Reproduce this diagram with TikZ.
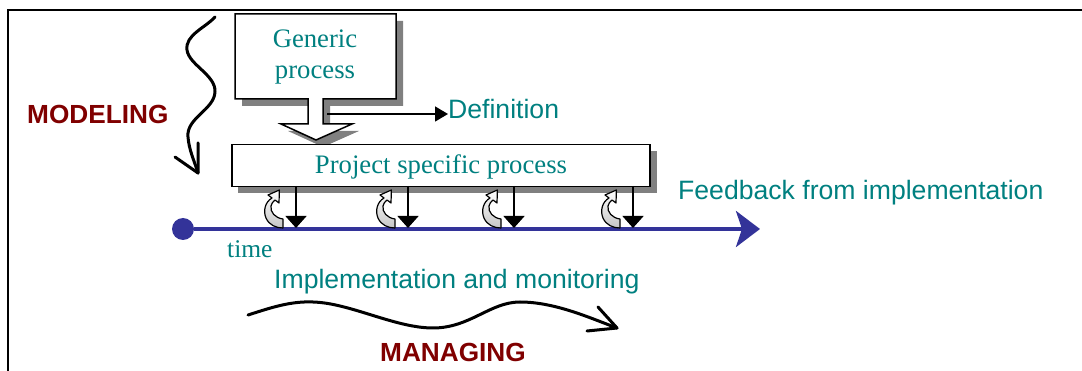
\documentclass[tikz,border=0pt]{standalone}
\usepackage{fontspec}
\setmainfont{Liberation Serif}
\setsansfont{Liberation Sans}
\usetikzlibrary{arrows.meta}
\definecolor{teal1}{RGB}{0,128,128}
\definecolor{dred}{RGB}{128,0,0}
\definecolor{tblue}{RGB}{51,51,153}
\definecolor{shad}{RGB}{128,128,128}
\begin{document}
\begin{tikzpicture}[x=1pt,y=-1pt,
  serift/.style={font=\fontsize{26.7}{31}\selectfont, text=teal1, inner sep=0},
  sanst/.style={font=\sffamily\fontsize{26.6}{31}\selectfont, text=teal1, inner sep=0},
  labelt/.style={font=\sffamily\bfseries\fontsize{26.2}{31}\selectfont, text=dred, inner sep=0},
  wave/.style={line width=3, line cap=round, line join=round},
  boxline/.style={line width=1.5},
  curl/.style={line width=1.2, top color=white, bottom color=gray!45, draw=black, line join=round},
]
\useasboundingbox (0,0) rectangle (1082,371);
% frame
\draw[line width=2] (8,371) -- (8,10) -- (1082,10);

% generic process box with block arrow (shadow first)
\fill[shad, shift={(7,7)}] (235,14) -- (396,14) -- (396,99) -- (323,99) -- (323,124) -- (352,124) -- (316,140) -- (281,124) -- (308,124) -- (308,99) -- (235,99) -- cycle;
\draw[boxline, fill=white] (235,14) -- (396,14) -- (396,99) -- (323,99) -- (323,124) -- (352,124) -- (316,140) -- (281,124) -- (308,124) -- (308,99) -- (235,99) -- cycle;
\node[serift, anchor=base] (gen1) at (315,48) {Generic};
\node[serift, anchor=base] (gen2) at (315,79) {process};

% definition arrow
\node[sanst, anchor=base west] (def) at (448,119) {Definition};
\coordinate (d0) at (327,114);
\draw[line width=1.5, -{Triangle[length=13pt,width=15pt]}] (d0) -- (d0 -| def.west);

% project specific process box
\fill[shad] (238,151) rectangle (657,193);
\node[boxline, draw, fill=white, minimum width=418pt, minimum height=42pt, anchor=north west, inner sep=0] (proj) at (231,144) {};
\node[serift, anchor=base] (projt) at (441,174) {Project specific process};

% MODELING
\node[labelt, anchor=base west] (mod) at (27,124) {MODELING};
\draw[wave] (215,17) .. controls (205,28) and (185,35) .. (187,50) .. controls (189,65) and (216,75) .. (215,92) .. controls (214,110) and (186,118) .. (188,137) .. controls (189,150) and (194,160) .. (198,173);
\draw[wave] (175,157) -- (198,173) -- (198,143);

% timeline
\node[circle, fill=tblue, minimum size=22pt, inner sep=0] (t0) at (183,229) {};
\coordinate (tend) at (760,229);
\draw[tblue, line width=4, -{Stealth[length=24pt,width=36pt,inset=6pt]}] (t0) -- (tend);
\node[serift, font=\fontsize{25.5}{30}\selectfont, anchor=base west] (time) at (227,258) {time};

% feedback arrows and curl icons
\foreach \x in {296,408,514,633} {
  \coordinate (top\x) at (\x,186);
  \coordinate (bot\x) at (\x,228);
  \draw[line width=1.5, -{Triangle[length=12pt,width=21pt]}] (top\x) -- (bot\x);
  \begin{scope}[shift={(\x-24,0)}]
    \path[curl] (11,219) .. controls (3,218) and (-2,212) .. (-1,206) .. controls (0,203) .. (3,200) -- (7,203) -- (7.4,190) -- (-4,195) -- (0,198) .. controls (-7,202) and (-9,211) .. (-6,218) .. controls (-3,225) and (4,228) .. (11,228) -- cycle;
  \end{scope}
}
\node[sanst, anchor=base west] (fb) at (678,200) {Feedback from implementation};

% implementation / managing
\node[sanst, anchor=base west] (impl) at (274,289) {Implementation and monitoring};
\draw[wave] (248,315) .. controls (270,308) and (290,301) .. (313,302) .. controls (350,303) and (395,328) .. (433,328) .. controls (470,328) and (490,302) .. (520,302) .. controls (555,302) and (590,318) .. (617,328);
\draw[wave] (598,307) -- (617,328) -- (587,331);
\node[labelt, anchor=base west] (man) at (380,362) {MANAGING};
\end{tikzpicture}
\end{document}
